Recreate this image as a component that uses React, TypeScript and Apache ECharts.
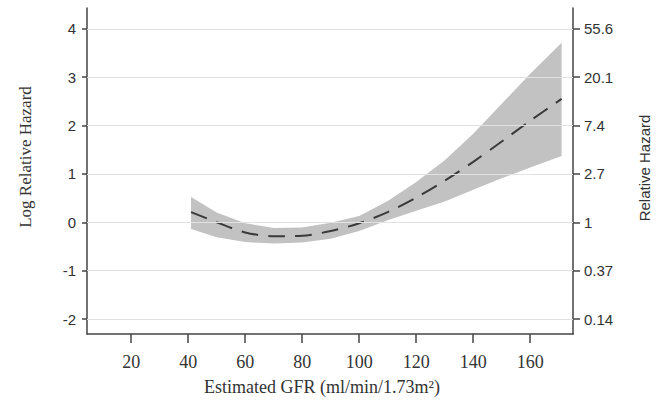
import React, { useEffect, useRef } from "react";
import * as echarts from "echarts";

const gfr = [41, 50, 60, 70, 80, 90, 100, 110, 120, 130, 140, 150, 160, 171];
const logHazard = [0.21, 0.0, -0.21, -0.29, -0.28, -0.18, -0.02, 0.21, 0.51, 0.86, 1.25, 1.67, 2.1, 2.55];
const lowerCI = [-0.14, -0.31, -0.41, -0.44, -0.42, -0.34, -0.18, 0.04, 0.24, 0.43, 0.67, 0.91, 1.13, 1.37];
const upperCI = [0.52, 0.2, -0.02, -0.12, -0.11, -0.01, 0.13, 0.44, 0.83, 1.28, 1.83, 2.45, 3.07, 3.71];

const xTicks = [20, 40, 60, 80, 100, 120, 140, 160];
const yTicks = [-2, -1, 0, 1, 2, 3, 4];
const rightTickLabels = ["0.14", "0.37", "1", "2.7", "7.4", "20.1", "55.6"];

const AXIS = "#444";
const TEXT = "#333";
const SANS = "Liberation Sans";
const SERIF = "Liberation Serif";

export default function App() {
  const ref = useRef<HTMLDivElement>(null);

  useEffect(() => {
    document.body.style.margin = "0";
    const chart = echarts.init(ref.current!, undefined, { renderer: "svg" });

    const bandData = gfr.map((x, i) => [x, lowerCI[i], upperCI[i]]);
    const midData = gfr.map((x, i) => [x, logHazard[i]]);

    const yMin = -2.31;
    const yMax = 4.43;

    chart.setOption({
      animation: false,
      grid: { left: 87, right: 87, top: 8, bottom: 74 },
      xAxis: {
        type: "value",
        min: 4.5,
        max: 175,
        axisLine: { show: true, onZero: false, lineStyle: { color: AXIS, width: 1.5 } },
        axisTick: { show: true, length: 9, customValues: xTicks, lineStyle: { color: AXIS, width: 1.5 } },
        axisLabel: {
          customValues: xTicks,
          margin: 19,
          color: TEXT,
          fontFamily: SERIF,
          fontSize: 18,
        },
        splitLine: { show: false },
      },
      yAxis: [
        {
          type: "value",
          position: "left",
          min: yMin,
          max: yMax,
          axisLine: { show: true, onZero: false, lineStyle: { color: AXIS, width: 1.5 } },
          axisTick: { show: true, length: 5, customValues: yTicks, lineStyle: { color: AXIS, width: 1.5 } },
          axisLabel: {
            customValues: yTicks,
            margin: 11,
            color: TEXT,
            fontFamily: SANS,
            fontSize: 15,
          },
          splitLine: { show: false },
        },
        {
          type: "value",
          position: "right",
          min: yMin,
          max: yMax,
          axisLine: { show: true, onZero: false, lineStyle: { color: AXIS, width: 1.5 } },
          axisTick: { show: true, length: 7, customValues: yTicks, lineStyle: { color: AXIS, width: 1.5 } },
          axisLabel: {
            customValues: yTicks,
            margin: 11,
            color: TEXT,
            fontFamily: SANS,
            fontSize: 15,
            formatter: (v: number) => {
              const idx = yTicks.findIndex((t) => Math.abs(t - v) < 1e-6);
              return idx >= 0 ? rightTickLabels[idx] : "";
            },
          },
          splitLine: { show: false },
        },
      ],
      series: [
        {
          type: "line",
          data: [],
          silent: true,
          z: 0,
          markLine: {
            silent: true,
            symbol: "none",
            label: { show: false },
            lineStyle: { color: "#e2e2e2", type: "solid", width: 1 },
            data: yTicks.map((v) => ({ yAxis: v })),
          },
        },
        {
          name: "95% CI",
          type: "custom",
          data: bandData,
          encode: { x: 0, y: [1, 2] },
          silent: true,
          z: 1,
          renderItem: (params: any, api: any) => {
            if (params.dataIndex !== 0) return null;
            const pts: number[][] = [];
            for (let i = 0; i < gfr.length; i++) pts.push(api.coord([gfr[i], upperCI[i]]));
            for (let i = gfr.length - 1; i >= 0; i--) pts.push(api.coord([gfr[i], lowerCI[i]]));
            return {
              type: "polygon",
              shape: { points: pts },
              style: { fill: "#c2c2c2", stroke: "none" },
            };
          },
        },
        {
          name: "Log Relative Hazard",
          type: "line",
          data: midData,
          smooth: 0.3,
          symbol: "none",
          lineStyle: { color: "#3a3a3a", width: 2, type: [17, 10] },
          z: 3,
        },
      ],
      graphic: [
        {
          type: "text",
          x: 25,
          y: 157,
          rotation: Math.PI / 2,
          style: {
            text: "Log Relative Hazard",
            font: `17px "${SERIF}"`,
            fill: TEXT,
            textAlign: "center",
            textVerticalAlign: "middle",
            align: "center",
            verticalAlign: "middle",
          },
        },
        {
          type: "text",
          x: 644,
          y: 168,
          rotation: Math.PI / 2,
          style: {
            text: "Relative Hazard",
            font: `15px "${SANS}"`,
            fill: TEXT,
            textAlign: "center",
            textVerticalAlign: "middle",
            align: "center",
            verticalAlign: "middle",
          },
        },
        {
          type: "text",
          x: 322,
          y: 387,
          style: {
            text: "Estimated GFR (ml/min/1.73m²)",
            font: `18px "${SERIF}"`,
            fill: TEXT,
            textAlign: "center",
            textVerticalAlign: "middle",
            align: "center",
            verticalAlign: "middle",
          },
        },
      ],
    });

    return () => chart.dispose();
  }, []);

  return <div ref={ref} style={{ width: 660, height: 408 }} />;
}
